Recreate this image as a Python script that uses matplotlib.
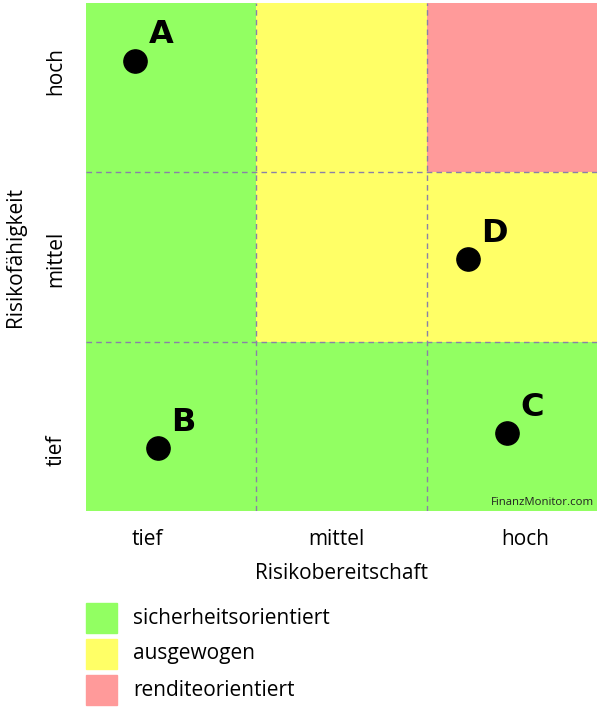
import numpy as np
import matplotlib
matplotlib.use("Agg")
import matplotlib.pyplot as plt
from matplotlib.colors import ListedColormap
from matplotlib.patches import Rectangle

plt.rcParams['font.family'] = ['Open Sans', 'DejaVu Sans']

# Kategorien
stufen = ["tief", "mittel", "hoch"]
klassen = ["sicherheitsorientiert", "ausgewogen", "renditeorientiert"]
farben = ["#92FF62", "#FFFF66", "#FF9A9A"]

# Matrix: Zeilen = Risikofähigkeit (tief..hoch), Spalten = Risikobereitschaft (tief..hoch)
matrix = np.array([[0, 0, 0],
                   [0, 1, 1],
                   [0, 1, 2]])

# Punkte
namen = ["A", "B", "C", "D"]
bereitschaft = [0.29, 0.42, 2.47, 2.24]
faehigkeit = [2.66, 0.37, 0.46, 1.49]

fig = plt.figure(figsize=(6.0, 7.07), dpi=100)
ax = fig.add_axes([86/600, 1-511/707, 511/600, 508/707])

ax.pcolormesh(np.arange(4), np.arange(4), matrix, cmap=ListedColormap(farben),
              vmin=-0.5, vmax=2.5)
for v in [1, 2]:
    ax.axvline(v, color="#8a80a8", lw=1, ls=(0, (4, 3)))
    ax.axhline(v, color="#8a80a8", lw=1, ls=(0, (4, 3)))

ax.scatter(bereitschaft, faehigkeit, s=280, color="black", zorder=3)
for n, x, y in zip(namen, bereitschaft, faehigkeit):
    ax.text(x + 0.08, y + 0.06, n, fontsize=23, fontweight="bold",
            family=["DejaVu Sans"], ha="left", va="bottom", zorder=4)

ax.text(2.98, 0.02, "FinanzMonitor.com", fontsize=8.2, ha="right", va="bottom",
        color="#222222")

ax.set_xlim(0, 3)
ax.set_ylim(0, 3)
for s in ax.spines.values():
    s.set_visible(False)
ax.set_xticks([0.36, 1.47, 2.58])
ax.set_xticklabels(stufen, fontsize=15)
ax.set_yticks([0.36, 1.49, 2.6])
ax.set_yticklabels(stufen, fontsize=15, rotation=90, va="center")
ax.tick_params(axis="x", length=0, pad=13)
ax.tick_params(axis="y", length=0, pad=14)
ax.set_xlabel("Risikobereitschaft", fontsize=15, labelpad=9)
ax.set_ylabel("Risikofähigkeit", fontsize=15, labelpad=14)

# Legende
lax = fig.add_axes([0, 0, 1, 115/707])
lax.set_xlim(0, 600)
lax.set_ylim(115, 0)
lax.axis("off")
for i, (k, f) in enumerate(zip(klassen, farben)):
    y0 = 11 + i * 36
    lax.add_patch(Rectangle((86, y0), 31, 30, color=f))
    lax.text(133, y0 + 15, k, fontsize=15, va="center", ha="left")

fig.savefig("out.png", dpi=100)
